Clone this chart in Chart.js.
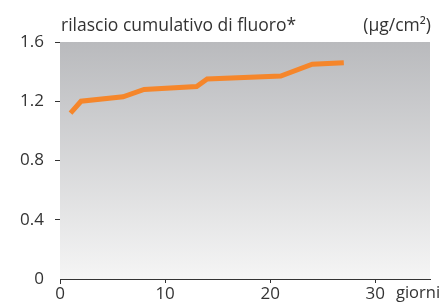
<!DOCTYPE html>
<html>
<head>
<meta charset="utf-8">
<script src="https://cdn.jsdelivr.net/npm/chart.js@4.4.1/dist/chart.umd.min.js"></script>
<style>
  html, body { margin: 0; padding: 0; background: #fff; }
  #wrap { width: 442px; height: 306px; position: relative; }
</style>
</head>
<body>
<div id="wrap"><canvas id="chart" width="442" height="306"></canvas></div>
<script>
// giorni (x) and rilascio cumulativo (µg/cm²)
const days = [1, 2, 6, 8, 13, 14, 21, 24, 27];
const release = [1.12, 1.20, 1.23, 1.28, 1.30, 1.35, 1.37, 1.45, 1.46];
const xTicks = [0, 10, 20, 30];
const yTicks = [0, 0.4, 0.8, 1.2, 1.6];

const titleLeft = 'rilascio cumulativo di fluoro*';
const titleRight = '(µg/cm²)';
const xUnit = 'giorni';

const FONT = '"Open Sans", "DejaVu Sans", sans-serif';
const TEXT = '#333333';

// sfondo grigio sfumato + testi extra
const decor = {
  id: 'decor',
  beforeDatasetsDraw(chart) {
    const { ctx, chartArea: a } = chart;
    const g = ctx.createLinearGradient(0, a.top, 0, a.bottom);
    g.addColorStop(0, '#b9babd');
    g.addColorStop(1, '#f5f5f5');
    ctx.save();
    ctx.fillStyle = g;
    ctx.fillRect(a.left, a.top, a.right - a.left, a.bottom - a.top);
    ctx.restore();
  },
  afterDraw(chart) {
    const { ctx, chartArea: a } = chart;
    ctx.save();
    // asse y che scende un po' sotto l'asse x
    ctx.strokeStyle = TEXT;
    ctx.lineWidth = 1;
    ctx.beginPath();
    ctx.moveTo(a.left + 0.5, a.bottom);
    ctx.lineTo(a.left + 0.5, a.bottom + 5);
    ctx.stroke();

    ctx.fillStyle = TEXT;
    ctx.font = '17.5px ' + FONT;
    ctx.textBaseline = 'alphabetic';
    ctx.textAlign = 'left';
    ctx.fillText(titleLeft, 61, 31);
    ctx.textAlign = 'right';
    ctx.fillText(titleRight, 431, 31);
    ctx.font = '16.5px ' + FONT;
    ctx.textAlign = 'left';
    ctx.fillText(xUnit, 396, 298);
    ctx.restore();
  }
};

new Chart(document.getElementById('chart'), {
  type: 'line',
  data: {
    datasets: [{
      data: days.map((d, i) => ({ x: d, y: release[i] })),
      borderColor: '#f5862b',
      borderWidth: 5,
      pointRadius: 0,
      tension: 0,
      fill: false
    }]
  },
  options: {
    responsive: false,
    animation: false,
    layout: { padding: { top: 42, right: 12, left: 0, bottom: 0 } },
    plugins: { legend: { display: false }, tooltip: { enabled: false } },
    scales: {
      x: {
        type: 'linear',
        min: 0,
        max: 35.2,
        afterBuildTicks(scale) { scale.ticks = xTicks.map(v => ({ value: v })); },
        afterFit(scale) { scale.height = 27; },
        grid: { drawOnChartArea: false, drawTicks: true, tickLength: 4, color: TEXT },
        border: { display: true, color: TEXT, width: 1 },
        ticks: { color: TEXT, font: { family: FONT, size: 17 }, padding: 1, maxRotation: 0 }
      },
      y: {
        min: 0,
        max: 1.6,
        afterBuildTicks(scale) { scale.ticks = yTicks.map(v => ({ value: v })); },
        afterFit(scale) { scale.width = 60; },
        grid: {
          drawOnChartArea: false, drawTicks: true, tickLength: 5,
          color: c => (c.tick && c.tick.value === 0 ? 'rgba(0,0,0,0)' : TEXT)
        },
        border: { display: true, color: TEXT, width: 1 },
        ticks: { color: TEXT, font: { family: FONT, size: 17 }, padding: 11 }
      }
    }
  },
  plugins: [decor]
});
</script>
</body>
</html>
